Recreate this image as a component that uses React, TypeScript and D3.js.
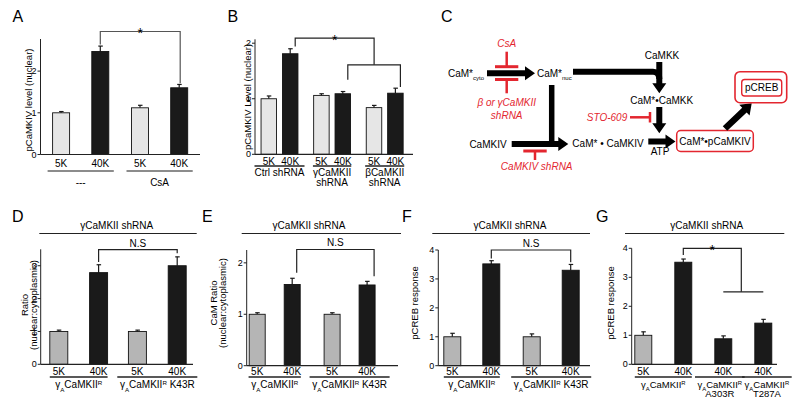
import React from "react";
import * as d3 from "d3";

const FONT = "'Liberation Sans', Arial, sans-serif";
const RED = "#e3262f";
const DARK = "#1a1a1a";

// Panel A
const aConds = ["5K", "40K", "5K", "40K"];
const aGroups = ["---", "---", "CsA", "CsA"];
const aValues = [1.0, 2.47, 1.12, 1.6];
const aErrors = [0.03, 0.13, 0.06, 0.08];
const aTicks = [0, 1, 2];
const aSig = { left: 1, right: 3, level: 2.95, leftEnd: 2.64, rightEnd: 1.71, mark: "*" };

// Panel B
const bConds = ["5K", "40K", "5K", "40K", "5K", "40K"];
const bGroups = ["Ctrl shRNA", "Ctrl shRNA", "γCaMKII\nshRNA", "γCaMKII\nshRNA", "βCaMKII\nshRNA", "βCaMKII\nshRNA"];
const bValues = [1.0, 1.81, 1.06, 1.09, 0.84, 1.1];
const bErrors = [0.05, 0.09, 0.03, 0.04, 0.04, 0.09];
const bTicks = [0, 1, 2];
const bSig = { left: 1, level: 2.09, leftEnd: 1.94, mark: "*" };
const bSub = { left: 3, right: 5, level: 1.61, leftEnd: 1.34, rightEnd: 1.21 };

// Panels D-F share the rescue constructs
const rescueConds = ["5K", "40K", "5K", "40K"];
const rescueGroups = ["γ_{A}CaMKII^{R}", "γ_{A}CaMKII^{R}", "γ_{A}CaMKII^{R} K43R", "γ_{A}CaMKII^{R} K43R"];

const dValues = [1.0, 2.79, 1.0, 3.0];
const dErrors = [0.04, 0.24, 0.04, 0.27];
const dTicks = [0, 1, 2, 3];
const dSig = { left: 1, right: 3, level: 3.49, leftEnd: 3.11, rightEnd: 3.38, mark: "N.S" };

const eValues = [1.0, 1.58, 1.0, 1.57];
const eErrors = [0.03, 0.12, 0.03, 0.07];
const eTicks = [0, 1, 2];
const eSig = { left: 1, right: 3, level: 2.26, leftEnd: 1.81, rightEnd: 1.74, mark: "N.S" };

const fValues = [1.0, 3.52, 1.0, 3.3];
const fErrors = [0.12, 0.11, 0.1, 0.2];
const fTicks = [0, 1, 2, 3, 4];
const fSig = { left: 1, right: 3, level: 4.0, leftEnd: 3.71, rightEnd: 3.58, mark: "N.S" };

// Panel G
const gConds = ["5K", "40K", "40K", "40K"];
const gGroups = ["γ_{A}CaMKII^{R}", "γ_{A}CaMKII^{R}", "γ_{A}CaMKII^{R}\nA303R", "γ_{A}CaMKII^{R}\nT287A"];
const gValues = [1.0, 3.52, 0.88, 1.42];
const gErrors = [0.12, 0.11, 0.1, 0.13];
const gTicks = [0, 1, 2, 3, 4];
const gSig = { left: 1, level: 4.0, leftEnd: 3.77, mark: "*" };
const gSub = { left: 2, right: 3, level: 2.5 };

const shTitle = "γCaMKII shRNA";

let ctx: CanvasRenderingContext2D | null = null;
function textWidth(s: string, fs: number) {
  if (!ctx) ctx = document.createElement("canvas").getContext("2d");
  if (!ctx) return s.length * fs * 0.55;
  ctx.font = `${fs}px ${FONT}`;
  return ctx.measureText(s.replace(/[_^]\{([^}]*)\}/g, "$1")).width;
}

function Rich({ s, fs }: { s: string; fs: number }) {
  const parts = s.split(/([_^]\{[^}]*\})/).filter((t) => t !== "");
  return (
    <>
      {parts.map((t, i) => {
        if (t.startsWith("_{")) return <tspan key={i} fontSize={fs * 0.62} baselineShift="sub">{t.slice(2, -1)}</tspan>;
        if (t.startsWith("^{")) return <tspan key={i} fontSize={fs * 0.62} baselineShift="super">{t.slice(2, -1)}</tspan>;
        return <tspan key={i}>{t}</tspan>;
      })}
    </>
  );
}

type Sc = d3.ScaleLinear<number, number>;

type PanelProps = {
  conds: string[];
  groups: string[];
  values: number[];
  errors: number[];
  ticks: number[];
  max: number;
  ax: number;
  y0: number;
  yTop: number;
  xEnd: number;
  groupRange?: [number, number];
  condHalf?: number;
  flatRange?: [number, number];
  barW: number;
  light: string;
  pad: number;
  yLabel: string[];
  yLabelX: number[];
  yLabelY: number;
  catY: number;
  underY: number;
  underColor: string;
  groupY: number;
  groupFs?: number;
  groupShift?: number[];
  annot?: (x: (i: number) => number, y: Sc) => React.ReactNode;
};

function BarPanel(p: PanelProps) {
  const y = d3.scaleLinear().domain([0, p.max]).range([p.y0, p.yTop]);
  const groupNames = Array.from(new Set(p.groups));
  let x: (i: number) => number;
  if (p.flatRange) {
    const s = d3.scalePoint<number>().domain(d3.range(p.values.length)).range(p.flatRange);
    x = (i) => s(i) as number;
  } else {
    const g = d3.scalePoint<string>().domain(groupNames).range(p.groupRange!);
    const c = d3.scalePoint<string>().domain(["5K", "40K"]).range([-p.condHalf!, p.condHalf!]);
    x = (i) => (g(p.groups[i]) as number) + (c(p.conds[i]) as number);
  }
  const bw = p.barW;
  const gfs = p.groupFs ?? 10;
  return (
    <g fontFamily={FONT}>
      {p.values.map((v, i) => (
        <g key={i}>
          <line x1={x(i)} x2={x(i)} y1={y(v)} y2={y(v + p.errors[i])} stroke={DARK} strokeWidth={1.2} />
          <line x1={x(i) - 2} x2={x(i) + 2.5} y1={y(v + p.errors[i])} y2={y(v + p.errors[i])} stroke={DARK} strokeWidth={1.2} />
          <rect x={x(i) - bw / 2} y={y(v)} width={bw} height={p.y0 - y(v)}
            fill={p.conds[i] === "5K" ? p.light : DARK} stroke="#111" strokeWidth={0.9} />
        </g>
      ))}
      <line x1={p.ax} x2={p.ax} y1={p.yTop} y2={p.y0} stroke="#222" strokeWidth={1} />
      <line x1={p.ax} x2={p.xEnd} y1={p.y0} y2={p.y0} stroke="#222" strokeWidth={1.2} />
      {p.ticks.map((t) => (
        <g key={t}>
          <line x1={p.ax - 3} x2={p.ax} y1={y(t)} y2={y(t)} stroke="#222" />
          <text x={p.ax - 4} y={y(t)} dy="0.35em" textAnchor="end" fontSize={9}>{t}</text>
        </g>
      ))}
      {p.values.map((v, i) => (
        <text key={i} x={x(i)} y={p.catY} textAnchor="middle" fontSize={10}>{p.conds[i]}</text>
      ))}
      {groupNames.map((gname, gi) => {
        const idx = d3.range(p.values.length).filter((i) => p.groups[i] === gname);
        const cx = (x(idx[0]) + x(idx[idx.length - 1])) / 2 + (p.groupShift ? p.groupShift[gi] : 0);
        const lines = gname.split("\n");
        const tw = textWidth(lines[0], gfs);
        const l = Math.min(x(idx[0]) - bw / 2 - p.pad, cx - tw / 2);
        const r = Math.max(x(idx[idx.length - 1]) + bw / 2 + p.pad, cx + tw / 2);
        return (
          <g key={gname}>
            <line x1={l} x2={r} y1={p.underY} y2={p.underY} stroke={p.underColor} strokeWidth={1.3} />
            {lines.map((ln, k) => (
              <text key={k} x={cx} y={p.groupY + k * 9.5} textAnchor="middle" fontSize={gfs}>
                <Rich s={ln} fs={gfs} />
              </text>
            ))}
          </g>
        );
      })}
      {p.yLabel.map((ln, k) => (
        <text key={k} transform={`translate(${p.yLabelX[k]},${p.yLabelY}) rotate(-90)`} textAnchor="middle"
          dominantBaseline="central" fontSize={9.5}>{ln}</text>
      ))}
      {p.annot && p.annot(x, y)}
    </g>
  );
}

type Sig = { left: number; right?: number; level: number; leftEnd: number; rightEnd?: number; mark?: string };

function Bracket({ x, y, s, dx = [0, 0], color = "#222", rightX, markSize = 10, markDy = -3 }:
  { x: (i: number) => number; y: Sc; s: Sig; dx?: number[]; color?: string; rightX?: number; markSize?: number; markDy?: number }) {
  const x1 = x(s.left) + dx[0];
  const x2 = rightX !== undefined ? rightX : x(s.right!) + dx[1];
  const yl = y(s.level);
  const p = d3.path();
  p.moveTo(x1, y(s.leftEnd));
  p.lineTo(x1, yl);
  p.lineTo(x2, yl);
  if (s.rightEnd !== undefined) p.lineTo(x2, y(s.rightEnd));
  return (
    <g>
      <path d={p.toString()} fill="none" stroke={color} strokeWidth={1.2} />
      {s.mark && (
        <text x={(x1 + x2) / 2} y={yl + markDy} textAnchor="middle" fontSize={markSize} fontFamily={FONT}>{s.mark}</text>
      )}
    </g>
  );
}

function Title({ cx, x1, x2 }: { cx: number; x1: number; x2: number }) {
  return (
    <g fontFamily={FONT}>
      <text x={cx} y={229} textAnchor="middle" fontSize={10}>{shTitle}</text>
      <line x1={x1} x2={x2} y1={233.5} y2={233.5} stroke="#222" strokeWidth={1.2} />
    </g>
  );
}

function thickArrow(x1: number, y1: number, x2: number, y2: number, w = 6, hw = 14, hl = 10) {
  const L = Math.hypot(x2 - x1, y2 - y1);
  const ux = (x2 - x1) / L, uy = (y2 - y1) / L, px = -uy, py = ux;
  const bx = x2 - ux * hl, by = y2 - uy * hl;
  const p = d3.path();
  p.moveTo(x1 + (px * w) / 2, y1 + (py * w) / 2);
  p.lineTo(bx + (px * w) / 2, by + (py * w) / 2);
  p.lineTo(bx + (px * hw) / 2, by + (py * hw) / 2);
  p.lineTo(x2, y2);
  p.lineTo(bx - (px * hw) / 2, by - (py * hw) / 2);
  p.lineTo(bx - (px * w) / 2, by - (py * w) / 2);
  p.lineTo(x1 - (px * w) / 2, y1 - (py * w) / 2);
  p.closePath();
  return p.toString();
}

function Pathway() {
  const corner = d3.path();
  corner.moveTo(573, 71.7);
  corner.lineTo(653, 71.7);
  corner.quadraticCurveTo(659.3, 71.7, 659.3, 79);
  return (
    <g fontFamily={FONT} fontSize={10}>
      <text x={448} y={77}>CaM*<tspan fontSize={6} baselineShift="sub">cyto</tspan></text>
      <path d={thickArrow(487, 73.3, 535, 73.3)} fill="#000" />
      <text x={506.7} y={47} textAnchor="middle" fill={RED} fontStyle="italic">CsA</text>
      <line x1={506.7} x2={506.7} y1={51.7} y2={66.7} stroke={RED} strokeWidth={2.5} />
      <line x1={495} x2={518.3} y1={66.7} y2={66.7} stroke={RED} strokeWidth={3} />
      <line x1={495} x2={518.3} y1={79.5} y2={79.5} stroke={RED} strokeWidth={3} />
      <line x1={506.7} x2={506.7} y1={79.5} y2={93.3} stroke={RED} strokeWidth={2.5} />
      <text x={506.7} y={106} textAnchor="middle" fill={RED} fontStyle="italic">β or γCaMKII</text>
      <text x={506.7} y={118.5} textAnchor="middle" fill={RED} fontStyle="italic">shRNA</text>
      <text x={537} y={76.5}>CaM*<tspan fontSize={6} baselineShift="sub">nuc</tspan></text>
      <path d={corner.toString()} fill="none" stroke="#000" strokeWidth={6} />
      <text x={662} y={58.5} textAnchor="middle">CaMKK</text>
      <path d={thickArrow(659.3, 62, 659.3, 93.3)} fill="#000" />
      <text x={661.7} y={103.5} textAnchor="middle">CaM*•CaMKK</text>
      <path d={thickArrow(659.3, 107, 659.3, 133.3)} fill="#000" />
      <text x={607} y={121} textAnchor="middle" fill={RED} fontStyle="italic">STO-609</text>
      <line x1={630} x2={650} y1={117.3} y2={117.3} stroke={RED} strokeWidth={2.5} />
      <line x1={650} x2={650} y1={112} y2={122.5} stroke={RED} strokeWidth={2.5} />
      <line x1={551.7} x2={551.7} y1={85} y2={146} stroke="#000" strokeWidth={5.5} />
      <text x={488} y={148} textAnchor="middle">CaMKIV</text>
      <path d={thickArrow(511.7, 144, 568.3, 144)} fill="#000" />
      <line x1={523.3} x2={546.7} y1={151} y2={151} stroke={RED} strokeWidth={3} />
      <line x1={535} x2={535} y1={151} y2={160} stroke={RED} strokeWidth={2.5} />
      <text x={536.7} y={170} textAnchor="middle" fill={RED} fontStyle="italic">CaMKIV shRNA</text>
      <text x={608} y={146.5} textAnchor="middle">CaM* • CaMKIV</text>
      <path d={thickArrow(648.3, 141.5, 675.5, 141.5)} fill="#000" />
      <text x={660} y={155} textAnchor="middle">ATP</text>
      <rect x={676.7} y={130.5} width={76.6} height={21} rx={4} fill="#fff" stroke={RED} strokeWidth={1.5} />
      <text x={715} y={144.5} textAnchor="middle">CaM*•pCaMKIV</text>
      <path d={thickArrow(725, 128.5, 751.7, 103.3, 6.5, 15, 10)} fill="#000" />
      <rect x={735} y={71.7} width={51.7} height={31} rx={5} fill="#fff" stroke={RED} strokeWidth={1.6} />
      <rect x={741.7} y={79.5} width={40} height={16.5} rx={3} fill="#fff" stroke={RED} strokeWidth={1.4} />
      <text x={761.7} y={91.2} textAnchor="middle">pCREB</text>
    </g>
  );
}

function Letter({ x, y, t }: { x: number; y: number; t: string }) {
  return <text x={x} y={y} fontFamily={FONT} fontSize={16}>{t}</text>;
}

export default function App() {
  return (
    <svg width={800} height={404} style={{ position: "absolute", left: 0, top: 0, background: "#fff" }}>
      <rect width={800} height={404} fill="#fff" />
      <Letter x={12.5} y={22} t="A" />
      <Letter x={227.5} y={22} t="B" />
      <Letter x={441} y={22} t="C" />
      <Letter x={12} y={222} t="D" />
      <Letter x={202} y={222} t="E" />
      <Letter x={402} y={222} t="F" />
      <Letter x={596} y={222} t="G" />

      <BarPanel conds={aConds} groups={aGroups} values={aValues} errors={aErrors} ticks={aTicks}
        max={2.77} ax={40.5} y0={154.5} yTop={39} xEnd={200}
        groupRange={[80.7, 159.6]} condHalf={19.6} barW={17} light="#e6e6e6" pad={5}
        yLabel={["pCaMKIV level (nuclear)"]} yLabelX={[28.5]} yLabelY={100}
        catY={167} underY={171} underColor="#666" groupY={186}
        annot={(x, y) => <Bracket x={x} y={y} s={aSig} dx={[0, 1]} color="#555" markSize={14} markDy={7} />} />

      <BarPanel conds={bConds} groups={bGroups} values={bValues} errors={bErrors} ticks={bTicks}
        max={2.07} ax={255} y0={154.3} yTop={39.3} xEnd={413}
        groupRange={[279.5, 384.7]} condHalf={10.7} barW={15.5} light="#e6e6e6" pad={0}
        yLabel={["pCaMKIV Level (nuclear)"]} yLabelX={[247]} yLabelY={97}
        catY={164.5} underY={166} underColor="#222" groupY={176}
        annot={(x, y) => {
          const subMid = (x(bSub.left) + x(bSub.right) + 10) / 2;
          const top = { ...bSig, rightEnd: bSub.level };
          return (
            <g>
              <Bracket x={x} y={y} s={bSub} dx={[5, 5]} />
              <Bracket x={x} y={y} s={top} dx={[5, 0]} rightX={subMid} markSize={14} markDy={7} />
            </g>
          );
        }} />

      <Pathway />

      <Title cx={116.7} x1={39.3} x2={196.7} />
      <BarPanel conds={rescueConds} groups={rescueGroups} values={dValues} errors={dErrors} ticks={dTicks}
        max={3.5} ax={40.7} y0={364.3} yTop={249.3} xEnd={193}
        groupRange={[78.7, 157.3]} condHalf={19.9} barW={18} light="#b5b5b5" pad={0}
        yLabel={["Ratio", "(nuclear:cytoplasmic)"]} yLabelX={[24.3, 33.5]} yLabelY={305}
        catY={375} underY={377} underColor="#222" groupY={387.5}
        annot={(x, y) => <Bracket x={x} y={y} s={dSig} markDy={-3} />} />

      <Title cx={309} x1={241.7} x2={401} />
      <BarPanel conds={rescueConds} groups={rescueGroups} values={eValues} errors={eErrors} ticks={eTicks}
        max={2.25} ax={246.7} y0={365.7} yTop={250} xEnd={398}
        groupRange={[274.7, 349.6]} condHalf={17.5} barW={16} light="#b5b5b5" pad={0}
        yLabel={["CaM Ratio", "(nuclear:cytoplasmic)"]} yLabelX={[213.3, 222.7]} yLabelY={303}
        catY={375} underY={377} underColor="#222" groupY={387.5}
        annot={(x, y) => <Bracket x={x} y={y} s={eSig} dx={[4.5, 7]} markDy={-3} />} />

      <Title cx={510} x1={432.3} x2={590} />
      <BarPanel conds={rescueConds} groups={rescueGroups} values={fValues} errors={fErrors} ticks={fTicks}
        max={4} ax={438.3} y0={365.7} yTop={250} xEnd={590}
        groupRange={[471.8, 551.2]} condHalf={19.5} barW={17} light="#b5b5b5" pad={0}
        yLabel={["pCREB response"]} yLabelX={[414.3]} yLabelY={303}
        catY={375} underY={377} underColor="#222" groupY={387.5}
        annot={(x, y) => <Bracket x={x} y={y} s={fSig} markDy={-3} />} />

      <Title cx={706.7} x1={625} x2={784.3} />
      <BarPanel conds={gConds} groups={gGroups} values={gValues} errors={gErrors} ticks={gTicks}
        max={4} ax={631.7} y0={364.3} yTop={248.3} xEnd={777}
        flatRange={[643.3, 763.3]} barW={17} light="#b5b5b5" pad={0}
        groupFs={9.5} groupShift={[0, -3.5, 3.6]}
        yLabel={["pCREB response"]} yLabelX={[610]} yLabelY={303}
        catY={375} underY={377} underColor="#222" groupY={387.5}
        annot={(x, y) => {
          const subMid = (x(gSub.left) + x(gSub.right)) / 2 - 2;
          const top = { ...gSig, rightEnd: gSub.level };
          const p = d3.path();
          p.moveTo(x(gSub.left), y(gSub.level));
          p.lineTo(x(gSub.right), y(gSub.level));
          return (
            <g>
              <path d={p.toString()} stroke="#222" strokeWidth={1.2} />
              <Bracket x={x} y={y} s={top} rightX={subMid} markSize={14} markDy={7} />
            </g>
          );
        }} />
    </svg>
  );
}
